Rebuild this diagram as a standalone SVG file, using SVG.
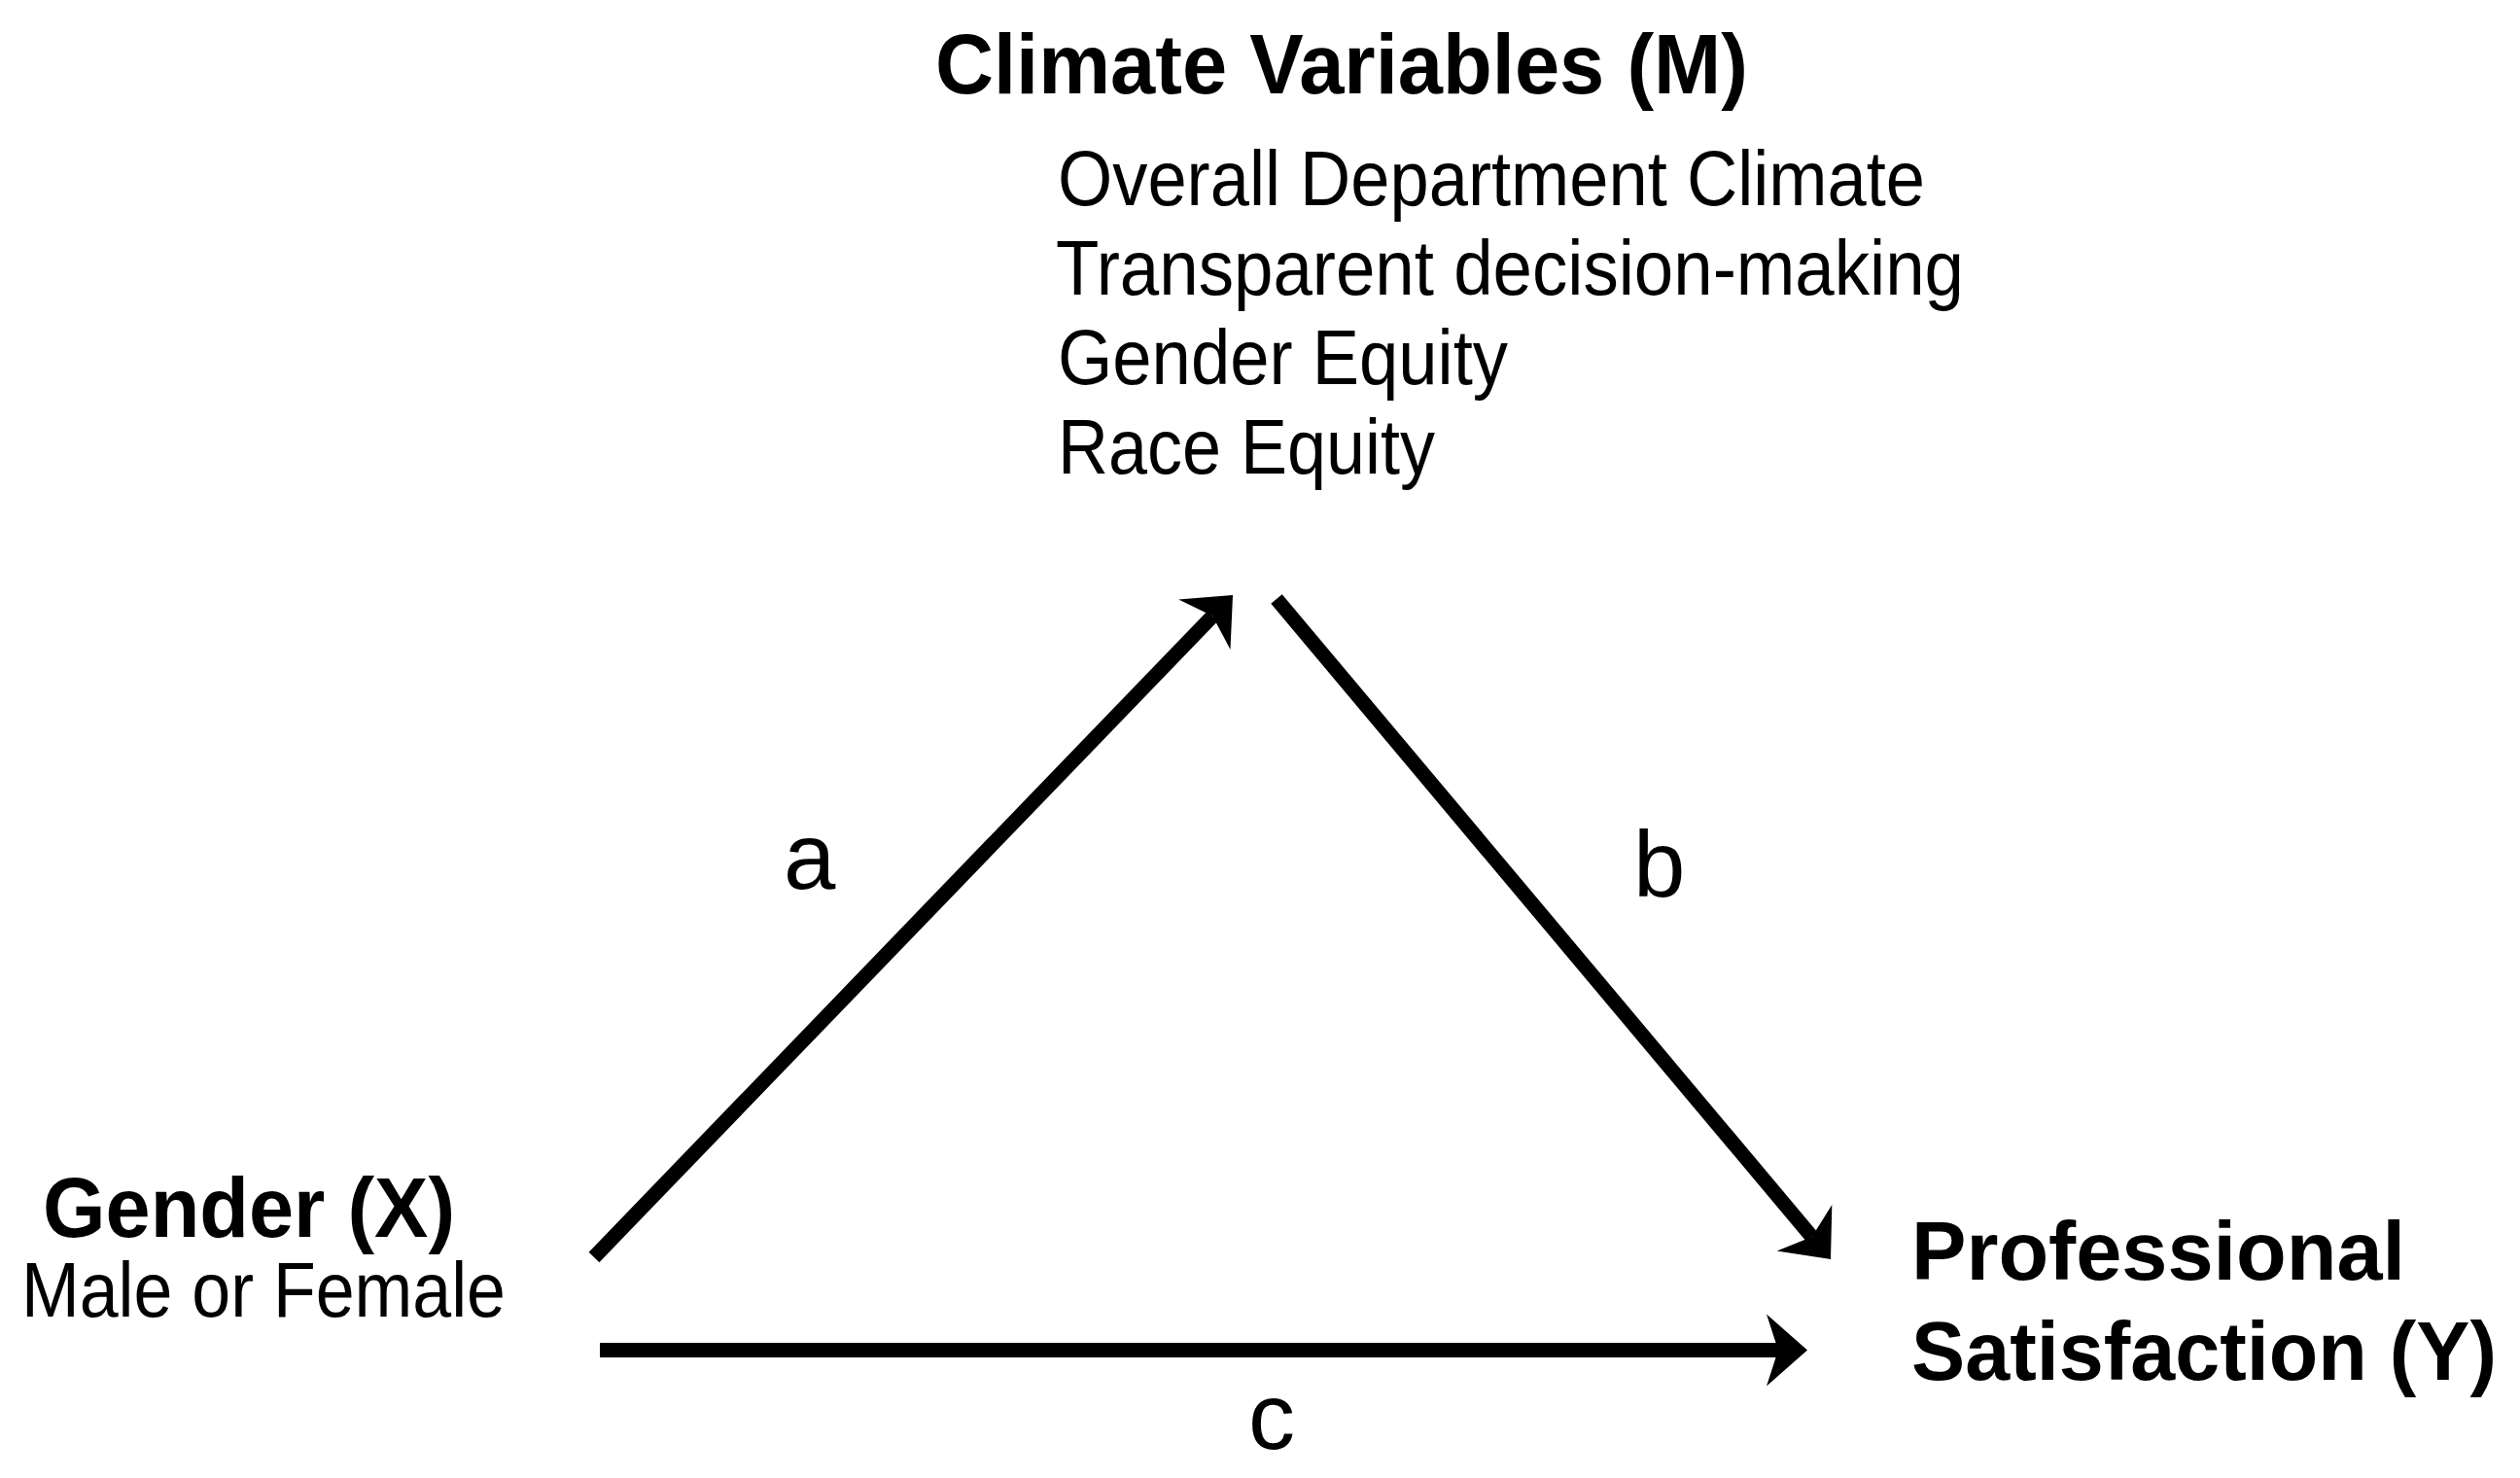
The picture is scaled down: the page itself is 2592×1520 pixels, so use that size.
<svg xmlns="http://www.w3.org/2000/svg" width="2592" height="1520" viewBox="0 0 2592 1520">
  <style>
    .bold { font-family: "Liberation Sans", Arial, sans-serif; font-weight: bold; font-size: 88px; fill: #000; }
    .boldy { font-family: "Liberation Sans", Arial, sans-serif; font-weight: bold; font-size: 85px; fill: #000; }
    .reg { font-family: "Liberation Sans", Arial, sans-serif; font-size: 80px; fill: #000; }
    .lbl { font-family: "Liberation Sans", Arial, sans-serif; font-size: 96px; fill: #000; }
    .edge { stroke: #000; stroke-width: 15; fill: none; stroke-linecap: butt; }
  </style>
  <defs>
    <marker id="arrow" viewBox="0 -40 44 80" refX="12" refY="0" markerWidth="44" markerHeight="80" markerUnits="userSpaceOnUse" orient="auto">
      <path d="M0,-37 L42,0 L0,37 L12,0 Z" fill="#000"/>
    </marker>
  </defs>
  <rect x="0" y="0" width="2592" height="1520" fill="#fff"/>

  <g id="node-M">
    <text class="bold" x="962" y="96" textLength="836" lengthAdjust="spacingAndGlyphs">Climate Variables (M)</text>
    <text class="reg" x="1088" y="211" textLength="892" lengthAdjust="spacingAndGlyphs">Overall Department Climate</text>
    <text class="reg" x="1086" y="303" textLength="934" lengthAdjust="spacingAndGlyphs">Transparent decision-making</text>
    <text class="reg" x="1088" y="395" textLength="463" lengthAdjust="spacingAndGlyphs">Gender Equity</text>
    <text class="reg" x="1088" y="487" textLength="388" lengthAdjust="spacingAndGlyphs">Race Equity</text>
  </g>

  <g id="node-X">
    <text class="bold" x="44" y="1272" textLength="424" lengthAdjust="spacingAndGlyphs">Gender (X)</text>
    <text class="reg" x="22" y="1354" textLength="498" lengthAdjust="spacingAndGlyphs">Male or Female</text>
  </g>

  <g id="node-Y">
    <text class="boldy" x="1966" y="1316" textLength="508" lengthAdjust="spacingAndGlyphs">Professional</text>
    <text class="boldy" x="1966" y="1419" textLength="602" lengthAdjust="spacingAndGlyphs">Satisfaction (Y)</text>
  </g>

  <g id="connectors">
    <line class="edge" x1="611" y1="1293" x2="1247.2" y2="633.6" marker-end="url(#arrow)"/>
    <line class="edge" x1="1313" y1="616" x2="1863.7" y2="1272" marker-end="url(#arrow)"/>
    <line class="edge" x1="617" y1="1388.5" x2="1829" y2="1388.5" marker-end="url(#arrow)"/>
    <text class="lbl" x="806" y="914">a</text>
    <text class="lbl" x="1680" y="922">b</text>
    <text class="lbl" x="1284" y="1490">c</text>
  </g>
</svg>
